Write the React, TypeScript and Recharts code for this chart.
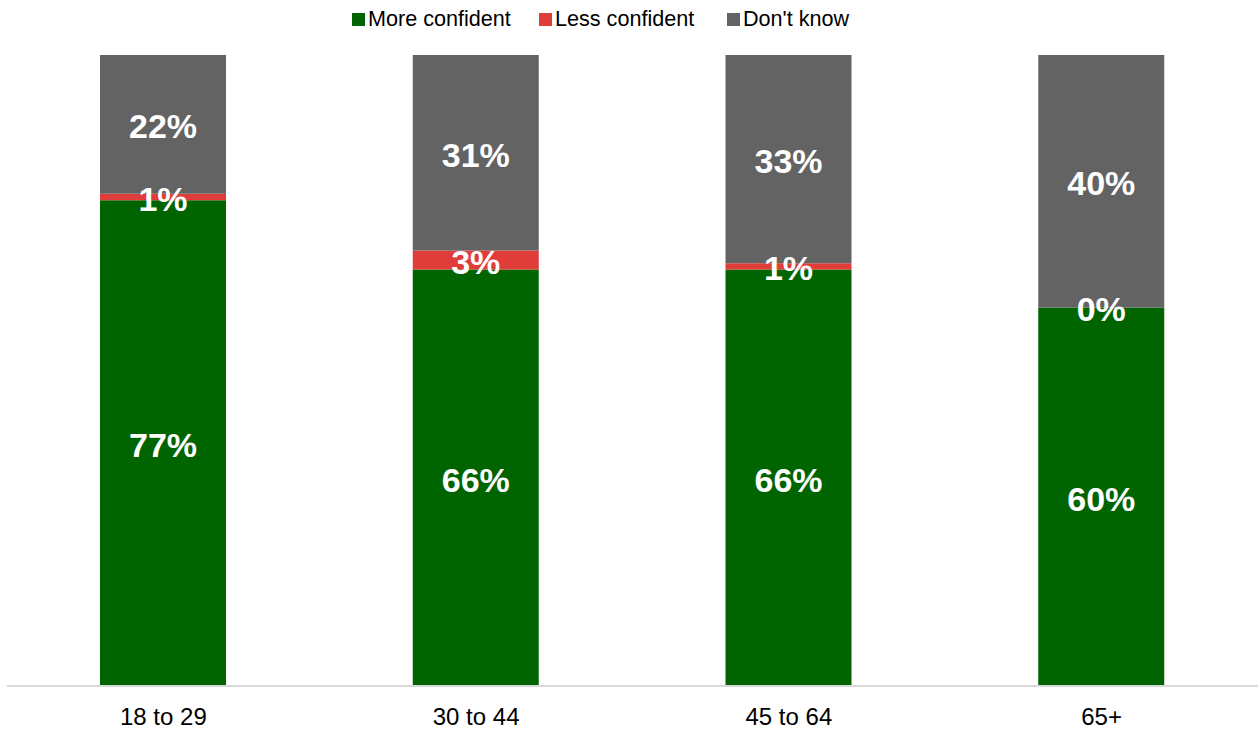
import { BarChart, Bar, XAxis, YAxis, LabelList } from 'recharts';

const ageGroups = ['18 to 29', '30 to 44', '45 to 64', '65+'];
const moreConfident = [77, 66, 66, 60];
const lessConfident = [1, 3, 1, 0];
const dontKnow = [22, 31, 33, 40];

const series = [
  { key: 'more', name: 'More confident', color: '#006400' },
  { key: 'less', name: 'Less confident', color: '#E03C3A' },
  { key: 'dk', name: "Don't know", color: '#636363' },
];

const legendLeft = [352, 539, 727];

const chartData = ageGroups.map((group, i) => ({
  group,
  more: moreConfident[i],
  less: lessConfident[i],
  dk: dontKnow[i],
}));

const FONT = 'Liberation Sans, Arial, sans-serif';

interface LabelProps {
  x?: number | string;
  y?: number | string;
  width?: number | string;
  height?: number | string;
  value?: number | string;
  index?: number;
}

const labelText = (cx: number, cy: number, value: number | string | undefined) => (
  <text
    x={cx}
    y={cy + 2}
    fill="#ffffff"
    fontSize={34}
    fontWeight="bold"
    fontFamily={FONT}
    textAnchor="middle"
    dominantBaseline="central"
  >
    {value}%
  </text>
);

const SegmentLabel = ({ x, y, width, height, value }: LabelProps) => {
  const cx = Number(x) + Number(width) / 2;
  const cy = Number(y) + Number(height) / 2;
  return labelText(cx, cy, value);
};

// green segment also draws the "less confident" label, since a 0% segment has no bar to hang it on
const MoreLabel = ({ x, y, width, height, value, index = 0 }: LabelProps) => {
  const cx = Number(x) + Number(width) / 2;
  const h = Number(height);
  const perUnit = h / Number(value);
  const less = lessConfident[index];
  const lessCy = Number(y) - (less * perUnit) / 2;
  return (
    <g>
      {labelText(cx, Number(y) + h / 2, value)}
      {labelText(cx, lessCy, less)}
    </g>
  );
};

const TopLegend = () => (
  <>
    {series.map((s, i) => (
      <div
        key={s.key}
        style={{
          position: 'absolute',
          left: legendLeft[i],
          top: 6,
          display: 'flex',
          alignItems: 'center',
          gap: 3,
          fontFamily: FONT,
          fontSize: 21.6,
          color: '#000',
          whiteSpace: 'nowrap',
        }}
      >
        <div style={{ width: 13, height: 13, backgroundColor: s.color }} />
        <span>{s.name}</span>
      </div>
    ))}
  </>
);

export default function App() {
  return (
    <div style={{ position: 'absolute', left: 0, top: 0, width: 1258, height: 729, background: '#fff' }}>
      <BarChart
        width={1258}
        height={729}
        data={chartData}
        margin={{ top: 55, right: 0, left: 7, bottom: 0 }}
        barSize={126}
      >
        <XAxis
          dataKey="group"
          height={43}
          tickLine={false}
          axisLine={{ stroke: '#d9d9d9', strokeWidth: 2 }}
          tick={{ fill: '#000', fontSize: 24, fontFamily: FONT }}
          tickMargin={16}
        />
        <YAxis hide domain={[0, 100]} />
        <Bar dataKey="more" name="More confident" stackId="a" fill="#006400" isAnimationActive={false}>
          <LabelList dataKey="more" content={<MoreLabel />} />
        </Bar>
        <Bar dataKey="less" name="Less confident" stackId="a" fill="#E03C3A" isAnimationActive={false} />
        <Bar dataKey="dk" name="Don't know" stackId="a" fill="#636363" isAnimationActive={false}>
          <LabelList dataKey="dk" content={<SegmentLabel />} />
        </Bar>
      </BarChart>
      <TopLegend />
    </div>
  );
}
